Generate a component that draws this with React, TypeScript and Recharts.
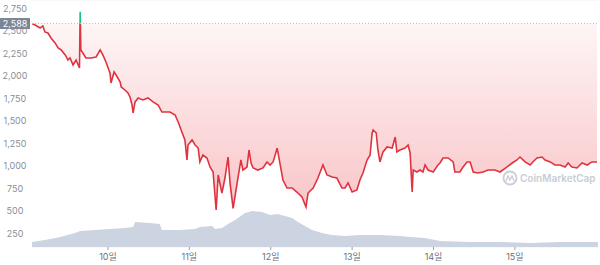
import React from "react";
import { ComposedChart, Area, XAxis, YAxis, CartesianGrid, ReferenceLine } from "recharts";

// hours since 9일 00:00
const priceHours = [1.6, 2.5, 4.0, 4.8, 5.4, 6.3, 7.2, 8.4, 9.3, 10.2, 11.4, 12.2, 12.8, 13.7, 14.6, 15.6, 15.8, 16.0, 16.6, 17.5, 19.0, 20.5, 21.7, 22.5, 23.4, 24.6, 24.9, 25.8, 26.4, 27.6, 27.9, 29.0, 29.9, 30.5, 31.1, 31.4, 32.0, 32.9, 34.3, 35.8, 37.3, 38.8, 39.9, 40.8, 42.3, 43.8, 44.7, 45.8, 46.7, 47.3, 47.6, 48.8, 49.7, 50.6, 51.1, 52.0, 53.2, 54.1, 55.0, 55.9, 56.5, 57.6, 58.5, 59.4, 60.0, 60.9, 62.1, 63.2, 63.8, 65.0, 65.6, 66.2, 66.8, 68.2, 69.7, 70.9, 71.8, 72.7, 73.9, 74.7, 75.6, 76.8, 78.3, 79.7, 81.2, 82.4, 83.0, 84.5, 85.9, 87.4, 88.6, 90.1, 91.5, 93.0, 93.9, 94.8, 96.0, 97.4, 98.3, 99.2, 100.4, 101.3, 101.9, 102.2, 103.1, 103.6, 104.2, 105.1, 106.3, 107.8, 108.7, 109.2, 110.1, 111.6, 112.5, 113.1, 113.7, 114.0, 115.1, 116.0, 116.9, 117.5, 118.4, 119.9, 121.3, 121.9, 122.8, 124.3, 125.8, 126.3, 127.8, 128.7, 129.9, 130.8, 131.7, 133.1, 134.6, 136.1, 138.1, 139.6, 141.7, 143.2, 144.6, 145.5, 147.0, 148.5, 149.3, 150.5, 152.0, 152.9, 154.4, 155.8, 157.3, 158.8, 159.7, 160.8, 162.3, 163.8, 165.3, 166.7, 168.2];
const prices = [2588, 2572, 2539, 2561, 2494, 2483, 2427, 2372, 2316, 2294, 2238, 2182, 2205, 2127, 2182, 2093, 2720, 2294, 2260, 2205, 2205, 2216, 2294, 2238, 2160, 2038, 1926, 2049, 2015, 1937, 1882, 1848, 1815, 1770, 1681, 1592, 1715, 1759, 1737, 1759, 1715, 1681, 1603, 1603, 1603, 1570, 1492, 1381, 1292, 1069, 1236, 1292, 1236, 1202, 1047, 1124, 1091, 991, 935, 512, 902, 701, 868, 1102, 813, 530, 813, 1069, 957, 991, 1180, 1035, 980, 957, 980, 1047, 1013, 1047, 1202, 1035, 846, 757, 757, 712, 657, 545, 701, 757, 868, 1013, 902, 880, 868, 757, 757, 813, 712, 735, 846, 924, 1069, 1124, 1369, 1403, 1369, 1180, 1047, 1158, 1214, 1202, 1325, 1158, 1180, 1202, 1236, 1147, 712, 957, 935, 957, 935, 1013, 957, 935, 1013, 1035, 1091, 1091, 1047, 935, 935, 991, 1047, 1047, 935, 924, 935, 957, 957, 935, 991, 1035, 1069, 1102, 1047, 1013, 1047, 1091, 1102, 1069, 1047, 1013, 1013, 991, 1035, 991, 980, 1035, 1013, 1047, 1047];

const volumeHours = [1.6, 5.4, 9.9, 14.3, 15.8, 20.2, 24.6, 29.0, 31.4, 32.0, 36.4, 39.3, 39.9, 45.2, 49.7, 51.1, 54.7, 55.6, 57.6, 59.4, 61.5, 64.4, 66.5, 69.4, 71.8, 74.1, 76.2, 78.3, 80.0, 82.1, 84.2, 87.1, 90.1, 93.9, 98.3, 104.2, 110.1, 113.1, 117.5, 121.9, 130.8, 139.6, 148.5, 157.3, 168.5];
const volumes = [2.5, 3.5, 5, 7, 8, 8.5, 9, 9.5, 10, 12.5, 12, 11.5, 8.5, 8.5, 9, 10, 10.5, 9, 9.5, 11.5, 13.5, 17, 18, 17.5, 16, 16.5, 15.5, 14.5, 12.5, 10.5, 8.5, 7, 6, 5.5, 6, 6, 5.5, 5, 4.5, 3, 2.5, 2.5, 2, 2.5, 2.5];

const openPrice = 2588;
const priceTicks = [250, 500, 750, 1000, 1250, 1500, 1750, 2000, 2250, 2500, 2750];
const dayTicks = [24, 48, 72, 96, 120, 144];
const dayLabels = ["10일", "11일", "12일", "13일", "14일", "15일"];

const priceData = priceHours.map((h, i) => ({ h, price: prices[i] }));
const volumeData = volumeHours.map((h, i) => ({ h, vol: volumes[i] }));

const FONT = "Inter, 'Noto Sans', 'Noto Sans CJK KR', sans-serif";

const YTick = (props: any) => {
  const { y, payload } = props;
  return (
    <text x={15} y={y + 3} textAnchor="middle" fontSize={9} fill="#8a8f98" fontFamily={FONT}>
      {payload.value.toLocaleString("en-US")}
    </text>
  );
};

const XTick = (props: any) => {
  const { x, y, payload } = props;
  const idx = dayTicks.indexOf(payload.value);
  return (
    <text x={x} y={y + 8} textAnchor="middle" fontSize={9} fill="#6b7079" fontFamily={FONT}>
      {dayLabels[idx]}
    </text>
  );
};

const OpenLabel = (props: any) => {
  const vb = props.viewBox || {};
  const y = vb.y ?? 23;
  return (
    <g>
      <rect x={0} y={y - 5.5} width={30} height={11} fill="#7b8594" />
      <text x={15} y={y + 3} textAnchor="middle" fontSize={9} fill="#ffffff" fontFamily={FONT}>
        {openPrice.toLocaleString("en-US")}
      </text>
    </g>
  );
};

export default function App() {
  const plotH = 247;
  const base = plotH - ((openPrice - 100) * plotH) / 2750;
  const off = base / plotH;
  return (
    <div style={{ position: "absolute", left: 0, top: 0, width: 600, height: 265, background: "#fff" }}>
      <ComposedChart width={600} height={265} margin={{ top: 0, right: 2, bottom: 0, left: 0 }}>
        <defs>
          <linearGradient id="strokeGrad" gradientUnits="userSpaceOnUse" x1={0} y1={0} x2={0} y2={plotH}>
            <stop offset={off} stopColor="#16c784" />
            <stop offset={off} stopColor="#e0323f" />
          </linearGradient>
          <linearGradient id="fillGrad" gradientUnits="userSpaceOnUse" x1={0} y1={base} x2={0} y2={215}>
            <stop offset={0} stopColor="#ea3943" stopOpacity={0.05} />
            <stop offset={1} stopColor="#ea3943" stopOpacity={0.3} />
          </linearGradient>
        </defs>
        <CartesianGrid horizontal vertical={false} stroke="#f1f2f4" />
        <XAxis
          type="number"
          dataKey="h"
          domain={[1.6, 168.5]}
          ticks={dayTicks}
          tick={<XTick />}
          axisLine={false}
          tickLine={{ stroke: "#9aa0a8" }}
          tickSize={3}
          height={18}
          interval={0}
          allowDataOverflow
        />
        <YAxis
          yAxisId="price"
          type="number"
          domain={[100, 2850]}
          ticks={priceTicks}
          tick={<YTick />}
          axisLine={false}
          tickLine={false}
          width={32}
          interval={0}
          allowDataOverflow
        />
        <YAxis yAxisId="vol" type="number" domain={[0, 123.5]} hide />
        <Area
          yAxisId="vol"
          data={volumeData}
          dataKey="vol"
          type="linear"
          stroke="none"
          fill="#cdd4e1"
          fillOpacity={1}
          isAnimationActive={false}
          dot={false}
          activeDot={false}
        />
        <ReferenceLine
          yAxisId="price"
          y={openPrice}
          stroke="#b9bec6"
          strokeDasharray="1 2"
          label={<OpenLabel />}
        />
        <Area
          yAxisId="price"
          data={priceData}
          dataKey="price"
          type="linear"
          baseValue={openPrice}
          stroke="url(#strokeGrad)"
          strokeWidth={1.6}
          fill="url(#fillGrad)"
          fillOpacity={1}
          isAnimationActive={false}
          dot={false}
          activeDot={false}
        />
      </ComposedChart>
      <svg width={600} height={265} style={{ position: "absolute", left: 0, top: 0, pointerEvents: "none" }}>
        <circle cx={510} cy={178} r={6.5} fill="none" stroke="#c9cdd4" strokeWidth={1.8} />
        <path d="M506 181 L508 176 L510 180 L512 176 L514 181" fill="none" stroke="#c9cdd4" strokeWidth={1.4} />
        <text x={520} y={182} fontSize={10} fontWeight={600} fill="#c9cdd4" fontFamily={FONT}>
          CoinMarketCap
        </text>
      </svg>
    </div>
  );
}
